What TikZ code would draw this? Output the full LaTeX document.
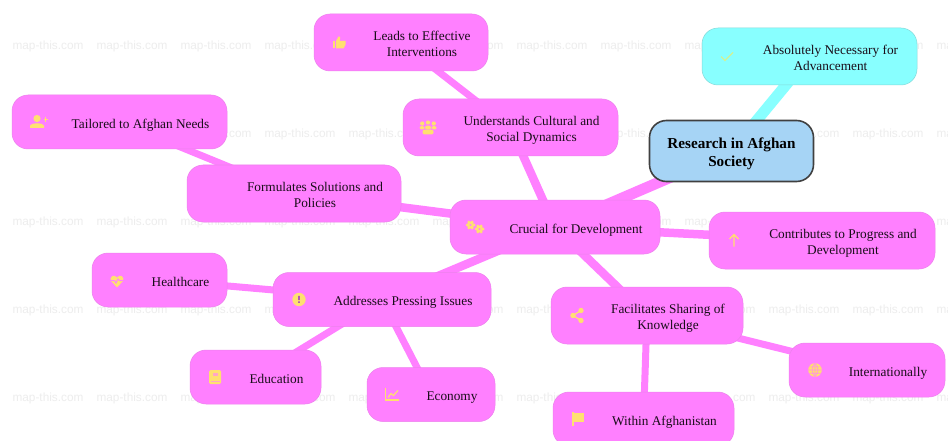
\documentclass[tikz,border=0pt]{standalone}
\usepackage{fontspec}
\setmainfont{Liberation Serif}
\newfontfamily\marksans{Liberation Sans}
\usetikzlibrary{backgrounds,positioning}
\definecolor{topicpink}{HTML}{FF80FF}
\definecolor{rootblue}{HTML}{A6D4F5}
\definecolor{topcyan}{HTML}{88FFFF}
\definecolor{iconyellow}{HTML}{FFE070}
\newcommand{\lowered}[1]{\raisebox{0pt}[\dimexpr\height+6pt\relax][\depth]{\begin{tabular}{@{}c@{}}#1\end{tabular}}}
\newcommand{\iconed}[1]{\hspace{42pt}\lowered{#1}}
\tikzset{
  topic/.style={fill=topicpink, draw=topicpink!85!gray, line width=.5pt, rounded corners=16pt, outer sep=0pt,
    inner sep=0pt, text=black!90!topicpink, on grid, font=\fontsize{13.3}{15.7}\selectfont},
  cyantopic/.style={topic, fill=topcyan, draw=topcyan!70!gray},
  rootnode/.style={fill=rootblue, draw=black!75, line width=1.6pt, rounded corners=17pt, outer sep=0pt,
    inner sep=0pt, minimum width=164pt, minimum height=61pt, font=\fontsize{15.2}{17.4}\selectfont\bfseries},
  watermark/.style={text=black!7, font=\marksans\fontsize{11.8}{14}\selectfont, inner sep=0pt},
  mainedge/.style={draw=topicpink, line width=11pt},
  subedge/.style={draw=topicpink, line width=8.5pt},
  leafedge/.style={draw=topicpink, line width=7pt},
  icon/.style={fill=iconyellow, draw=none},
  iconline/.style={draw=iconyellow, line width=1.5pt, fill=none},
  pics/thumbicon/.style={code={
    \path[icon] (-6.5,-5) rectangle (-4,2.5);
    \path[icon] (-3,-5) -- (-3,2.5) -- (-.5,7) -- (1.2,6.5) -- (.8,2.5) -- (6.5,2.5) -- (6.5,-1) -- (4.5,-5) -- cycle;}},
  pics/peopleicon/.style={code={
    \foreach \hx/\hy in {-5.8/4,0/5,5.8/4} {\path[icon] (\hx,\hy) circle (2.1);}
    \path[icon, rounded corners=1.5pt] (-8.5,-2) rectangle (-3.5,1.4);
    \path[icon, rounded corners=1.5pt] (3.5,-2) rectangle (8.5,1.4);
    \path[icon, rounded corners=1.5pt] (-3,1.8) rectangle (3,-2);
    \path[icon, rounded corners=2pt] (-5.5,-7) rectangle (5.5,-2.2);}},
  pics/personicon/.style={code={
    \path[icon] (-1,3.5) circle (3.6);
    \path[icon] (-8,-6) -- (-8,-3.5) .. controls (-7,-.5) and (5,-.5) .. (6,-3.5) -- (6,-6) -- cycle;
    \draw[iconline, line width=.9pt] (5.5,2.5) -- (10,2.5) (7.75,.2) -- (7.75,4.8);}},
  pics/gearsicon/.style={code={
    \foreach \gx/\gy in {-4.5/2,4.5/-2} {
      \foreach \ga in {0,60,...,300} {\path[icon] ($(\gx,\gy)+(\ga:3.3)$) circle (1.7);}
      \path[icon, even odd rule] (\gx,\gy) circle (3.4) (\gx,\gy) circle (1.3);
    }}},
  pics/checkicon/.style={code={
    \draw[iconline, draw=iconyellow!70!green!60!white, line width=1.4pt] (-6,0) -- (-2,-4) -- (6,4);}},
  pics/upicon/.style={code={
    \draw[iconline, line width=1.2pt] (0,-6) -- (0,6) (-4.5,1.5) -- (0,6) -- (4.5,1.5);}},
  pics/alerticon/.style={code={
    \path[icon] (0,0) circle (6.7);
    \path[fill=topicpink!70!black] (-.8,-.7) rectangle (.8,3.6) (-.8,-3.4) rectangle (.8,-1.9);}},
  pics/hearticon/.style={code={
    \path[icon] (0,-6.5) -- (-6,0) .. controls (-8,4) and (-3,7.5) .. (0,3.5) .. controls (3,7.5) and (8,4) .. (6,0) -- cycle;
    \draw[draw=topicpink, line width=1pt] (-6.5,.5) -- (-2.5,.5) -- (-1,-2) -- (1,2) -- (2.5,.5) -- (6.5,.5);}},
  pics/bookicon/.style={code={
    \path[icon, rounded corners=1.5pt] (-6,-7) rectangle (6,7);
    \path[fill=topicpink!60!iconyellow] (-4.5,-5) rectangle (4.5,-4);
    \path[fill=topicpink!60!iconyellow] (-2,1) rectangle (2.5,4.5);}},
  pics/charticon/.style={code={
    \draw[iconline, line width=1.2pt] (-6.5,7) -- (-6.5,-5.5) -- (7,-5.5);
    \draw[iconline, line width=1.2pt] (-4,-3) -- (-1,1) -- (1.5,-1) -- (6,4);}},
  pics/shareicon/.style={code={
    \draw[iconline, line width=1.2pt] (4,5) -- (-4,0) -- (4,-5);
    \path[icon] (4,5) circle (2.7) (-4,0) circle (2.7) (4,-5) circle (2.7);}},
  pics/flagicon/.style={code={
    \path[icon] (-6,-7) rectangle (-4.4,7);
    \path[icon] (-4.4,6.5) rectangle (6,-2.5);}},
  pics/globeicon/.style={code={
    \path[icon] (0,0) circle (6.8);
    \draw[draw=topicpink!80!iconyellow, line width=.6pt] (-6.8,0) -- (6.8,0) (-6,3.2) -- (6,3.2) (-6,-3.2) -- (6,-3.2)
      (0,6.8) -- (0,-6.8) (0,6.8) .. controls (-4,3) and (-4,-3) .. (0,-6.8) (0,6.8) .. controls (4,3) and (4,-3) .. (0,-6.8);}},
}
\usetikzlibrary{calc}
\begin{document}
\begin{tikzpicture}[x=1pt, y=1pt]
  \clip (0,0) rectangle (948,440);
  % faint site marks behind everything
  \begin{scope}[on background layer]
    \path[fill=white] (0,0) rectangle (948,440);
    \foreach \wy in {46,134,222,310,398} {
      \foreach \wx in {0,...,11} {
        \node (mark-\wx-\wy) [watermark] at ({48+84*\wx},{440-\wy}) {map-this.com};
      }
    }
  \end{scope}
  \node (root) [rootnode] at (731.5,289) {\lowered{Research in Afghan\\Society}};
  \node (necessary) [cyantopic, minimum width=215pt, minimum height=57pt, above right=94.5pt and 78pt of root] {\iconed{Absolutely Necessary for\\Advancement}};
  \node (crucial) [topic, minimum width=210pt, minimum height=54pt, below left=76pt and 176.5pt of root] {\iconed{Crucial for Development}};
  \node (dynamics) [topic, minimum width=215pt, minimum height=57pt, above left=99.5pt and 44.5pt of crucial] {\iconed{Understands Cultural and\\Social Dynamics}};
  \node (effective) [topic, minimum width=174pt, minimum height=57pt, above left=85pt and 109.5pt of dynamics] {\iconed{Leads to Effective\\Interventions}};
  \node (solutions) [topic, minimum width=214pt, minimum height=57pt, above left=33.5pt and 261pt of crucial] {\iconed{Formulates Solutions and\\Policies}};
  \node (tailored) [topic, minimum width=215pt, minimum height=54pt, above left=71.5pt and 174.5pt of solutions] {\iconed{Tailored to Afghan Needs}};
  \node (progress) [topic, minimum width=226pt, minimum height=57pt, below right=13.5pt and 267pt of crucial] {\iconed{Contributes to Progress and\\Development}};
  \node (issues) [topic, minimum width=218pt, minimum height=54pt, below left=72.5pt and 173pt of crucial] {\iconed{Addresses Pressing Issues}};
  \node (health) [topic, minimum width=135pt, minimum height=54pt, above left=19.5pt and 222.5pt of issues] {\iconed{Healthcare}};
  \node (education) [topic, minimum width=131pt, minimum height=54pt, below left=77.5pt and 126.5pt of issues] {\iconed{Education}};
  \node (economy) [topic, minimum width=128pt, minimum height=54pt, below right=95pt and 49pt of issues] {\iconed{Economy}};
  \node (sharing) [topic, minimum width=192pt, minimum height=57pt, below right=88.5pt and 92pt of crucial] {\iconed{Facilitates Sharing of\\Knowledge}};
  \node (within) [topic, minimum width=181pt, minimum height=54pt, below left=103.5pt and 3.5pt of sharing] {\iconed{Within Afghanistan}};
  \node (world) [topic, minimum width=156pt, minimum height=54pt, below right=54.5pt and 220pt of sharing] {\iconed{Internationally}};
  % icons
  \pic at ([xshift=25pt,yshift=-1pt]effective.west) {thumbicon};
  \pic at ([xshift=25pt]dynamics.west) {peopleicon};
  \pic at ([xshift=26pt]tailored.west) {personicon};
  \pic at ([xshift=25pt]crucial.west) {gearsicon};
  \pic at ([xshift=25pt]necessary.west) {checkicon};
  \pic at ([xshift=25pt]progress.west) {upicon};
  \pic at ([xshift=26pt]issues.west) {alerticon};
  \pic at ([xshift=25pt,yshift=-1pt]health.west) {hearticon};
  \pic at ([xshift=25pt]education.west) {bookicon};
  \pic at ([xshift=25pt]economy.west) {charticon};
  \pic at ([xshift=26pt]sharing.west) {shareicon};
  \pic at ([xshift=25pt]within.west) {flagicon};
  \pic at ([xshift=26pt]world.west) {globeicon};
  % connectors
  \begin{scope}[on background layer]
    \path (root.center) edge[mainedge, draw=topcyan] (necessary.center);
    \path (root.center) edge[mainedge] (crucial.center);
    \path (crucial.center) edge[subedge] (dynamics.center);
    \path (crucial.center) edge[subedge] (solutions.center);
    \path (crucial.center) edge[subedge] (progress.center);
    \path (crucial.center) edge[subedge] (issues.center);
    \path (crucial.center) edge[subedge] (sharing.center);
    \path (dynamics.center) edge[leafedge] (effective.center);
    \path (solutions.center) edge[leafedge] (tailored.center);
    \path (issues.center) edge[leafedge] (health.center);
    \path (issues.center) edge[leafedge] (education.center);
    \path (issues.center) edge[leafedge] (economy.center);
    \path (sharing.center) edge[leafedge] (within.center);
    \path (sharing.center) edge[leafedge] (world.center);
  \end{scope}
\end{tikzpicture}
\end{document}
